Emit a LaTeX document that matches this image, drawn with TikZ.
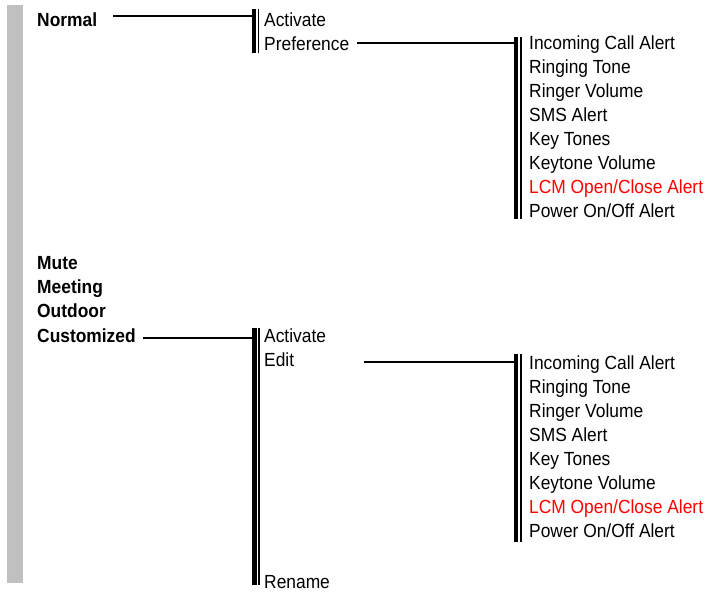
\documentclass[tikz,border=0pt]{standalone}
\usepackage{fontspec}
\setmainfont[FakeStretch=0.915]{Liberation Sans}
\definecolor{barGrey}{HTML}{C0C0C0}
\definecolor{alertRed}{HTML}{FF0000}
\begin{document}
\begin{tikzpicture}[x=1pt,y=-1pt,
  lbl/.style={anchor=base west,inner sep=0pt,font=\fontsize{19}{24}\selectfont},
  head/.style={lbl,font=\fontsize{19}{24}\selectfont\bfseries},
  redlbl/.style={lbl,text=alertRed},
  conn/.style={line width=2pt},
  thickbar/.style={line width=4.5pt},
  thinbar/.style={line width=1.8pt}]
\useasboundingbox (0,0) rectangle (707,595);
% grey side bar
\fill[barGrey] (7,5) rectangle (23,583);

% ---- Upper section ----
\node[head] (normal) at (37,26) {Normal};
\node[lbl] (act1) at (264,26) {Activate};
\node[lbl] (pref) at (264,50) {Preference};
\coordinate (b1top) at (254,9);
\coordinate (b1bot) at (254,53);
\draw[thickbar] (b1top) -- (b1bot);
\draw[thinbar] ([xshift=4.5pt]b1top) -- ([xshift=4.5pt]b1bot);
\coordinate (n1s) at (113,16);
\draw[conn] (n1s) -- (b1top |- n1s);

\coordinate (b2top) at (516,37);
\coordinate (b2bot) at (516,219);
\draw[thickbar] (b2top) -- (b2bot);
\draw[thinbar] ([xshift=5.3pt]b2top) -- ([xshift=5.3pt]b2bot);
\coordinate (p1s) at (357,43);
\draw[conn] (p1s) -- (b2top |- p1s);

\node[lbl] (u1) at (529,49) {Incoming Call Alert};
\node[lbl] (u2) at (529,73) {Ringing Tone};
\node[lbl] (u3) at (529,97) {Ringer Volume};
\node[lbl] (u4) at (529,121) {SMS Alert};
\node[lbl] (u5) at (529,145) {Key Tones};
\node[lbl] (u6) at (529,169) {Keytone Volume};
\node[redlbl] (u7) at (529,193) {LCM Open/Close Alert};
\node[lbl] (u8) at (529,217) {Power On/Off Alert};

% ---- Lower section ----
\node[head] (mute) at (37,269) {Mute};
\node[head] (meet) at (37,293) {Meeting};
\node[head] (outd) at (37,317) {Outdoor};
\node[head] (cust) at (37,342) {Customized};
\node[lbl] (act2) at (264,342) {Activate};
\node[lbl] (edit) at (264,366) {Edit};
\node[lbl] (ren) at (264,588) {Rename};

\coordinate (b3top) at (254.5,328);
\coordinate (b3bot) at (254.5,585);
\draw[thickbar] (b3top) -- (b3bot);
\draw[thinbar] ([xshift=4.5pt]b3top) -- ([xshift=4.5pt]b3bot);
\coordinate (c1s) at (143,338);
\draw[conn] (c1s) -- (b3top |- c1s);

\coordinate (b4top) at (516,354);
\coordinate (b4bot) at (516,542);
\draw[thickbar] (b4top) -- (b4bot);
\draw[thinbar] ([xshift=5.3pt]b4top) -- ([xshift=5.3pt]b4bot);
\coordinate (e1s) at (364,362);
\draw[conn] (e1s) -- (b4top |- e1s);

\node[lbl] (l1) at (529,369) {Incoming Call Alert};
\node[lbl] (l2) at (529,393) {Ringing Tone};
\node[lbl] (l3) at (529,417) {Ringer Volume};
\node[lbl] (l4) at (529,441) {SMS Alert};
\node[lbl] (l5) at (529,465) {Key Tones};
\node[lbl] (l6) at (529,489) {Keytone Volume};
\node[redlbl] (l7) at (529,513) {LCM Open/Close Alert};
\node[lbl] (l8) at (529,537) {Power On/Off Alert};
\end{tikzpicture}
\end{document}
